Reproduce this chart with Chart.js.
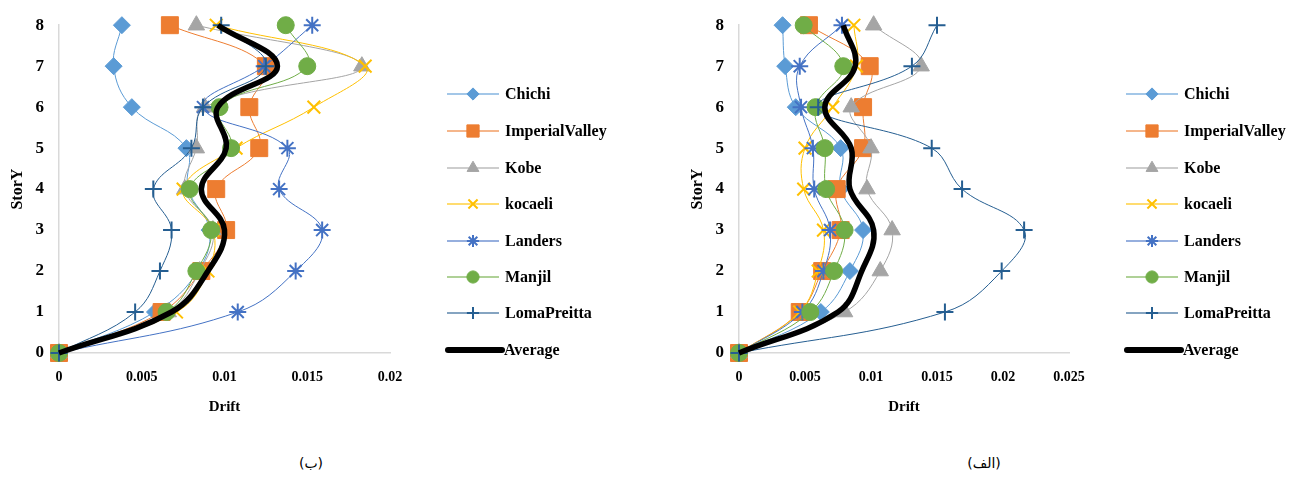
<!DOCTYPE html>
<html>
<head>
<meta charset="utf-8">
<script src="https://cdn.jsdelivr.net/npm/chart.js@4/dist/chart.umd.min.js"></script>
<style>
  body { margin: 0; background: #fff; width: 1305px; height: 478px; position: relative; overflow: hidden; }
  canvas { position: absolute; top: 0; }
  #chartB { left: 0; }
  #chartA { left: 680px; }
  .cap { position: absolute; top: 455px; font-family: "DejaVu Sans", sans-serif; font-size: 14px; transform: translateX(-50%); }
</style>
</head>
<body>
<canvas id="chartB" width="650" height="430"></canvas>
<canvas id="chartA" width="625" height="430"></canvas>
<div class="cap" style="left:311px">(ب)</div>
<div class="cap" style="left:984px">(الف)</div>
<script>
// story levels (y axis)
const stories = [0, 1, 2, 3, 4, 5, 6, 7, 8];
const seriesNames = ["Chichi", "ImperialValley", "Kobe", "kocaeli", "Landers", "Manjil", "LomaPreitta", "Average"];

// left chart (ب)
const chichiB   = [0, 0.0058, 0.0084, 0.0091, 0.0078, 0.0077, 0.0044, 0.0033, 0.0038];
const imperialB = [0, 0.0062, 0.0086, 0.0101, 0.0095, 0.0121, 0.0115, 0.0125, 0.0067];
const kobeB     = [0, 0.0066, 0.0085, 0.0093, 0.0076, 0.0083, 0.0088, 0.0183, 0.0083];
const kocaeliB  = [0, 0.0071, 0.0090, 0.0093, 0.0075, 0.0107, 0.0154, 0.0185, 0.0095];
const landersB  = [0, 0.0108, 0.0143, 0.0159, 0.0133, 0.0138, 0.0087, 0.0124, 0.0153];
const manjilB   = [0, 0.0065, 0.0083, 0.0092, 0.0079, 0.0104, 0.0097, 0.0150, 0.0137];
const lomaB     = [0, 0.0046, 0.0061, 0.0068, 0.0057, 0.0080, 0.0087, 0.0125, 0.0098];
const averageB  = [0, 0.0068, 0.0090, 0.0100, 0.0086, 0.0101, 0.0096, 0.0132, 0.0096];
const xTicksB = ["0", "0.005", "0.01", "0.015", "0.02"];

// right chart (الف)
const chichiA   = [0, 0.0062, 0.0084, 0.0094, 0.0077, 0.0077, 0.0043, 0.0035, 0.0033];
const imperialA = [0, 0.0046, 0.0063, 0.0077, 0.0074, 0.0094, 0.0094, 0.0099, 0.0053];
const kobeA     = [0, 0.0080, 0.0107, 0.0116, 0.0097, 0.0100, 0.0085, 0.0138, 0.0102];
const kocaeliA  = [0, 0.0046, 0.0060, 0.0064, 0.0049, 0.0050, 0.0071, 0.0089, 0.0087];
const landersA  = [0, 0.0048, 0.0064, 0.0069, 0.0057, 0.0056, 0.0047, 0.0046, 0.0078];
const manjilA   = [0, 0.0054, 0.0072, 0.0080, 0.0066, 0.0065, 0.0058, 0.0079, 0.0049];
const lomaA     = [0, 0.0156, 0.0199, 0.0216, 0.0169, 0.0146, 0.0060, 0.0131, 0.0150];
const averageA  = [0, 0.0075, 0.0093, 0.0102, 0.0084, 0.0085, 0.0065, 0.0088, 0.0079];
const xTicksA = ["0", "0.005", "0.01", "0.015", "0.02", "0.025"];

const yTicks = ["0", "1", "2", "3", "4", "5", "6", "7", "8"];

const styles = [
  { color: "#5B9BD5", point: "rectRot", r: 8.5, bw: 1 },
  { color: "#ED7D31", point: "rect", r: 12, bw: 1 },
  { color: "#A5A5A5", point: "triangle", r: 9.5, bw: 1 },
  { color: "#FFC000", point: "crossRot", r: 9, bw: 2 },
  { color: "#4472C4", point: "star", r: 8.5, bw: 2 },
  { color: "#70AD47", point: "circle", r: 8.5, bw: 1 },
  { color: "#255E91", point: "cross", r: 8.5, bw: 2 },
  { color: "#000000", point: false, r: 0, bw: 0 },
];

const serif = "'Liberation Serif', 'Times New Roman', serif";

function toPoints(arr) {
  return arr.map((v, i) => ({ x: v, y: stories[i] }));
}

function makeDatasets(list) {
  return list.map((arr, i) => {
    const s = styles[i];
    const isAvg = i === list.length - 1;
    return {
      label: seriesNames[i],
      data: toPoints(arr),
      showLine: true,
      borderColor: s.color,
      backgroundColor: s.color,
      borderWidth: isAvg ? 5.5 : 1,
      pointStyle: s.point,
      pointRadius: s.r,
      pointBorderWidth: s.bw,
      pointBorderColor: s.color,
      pointBackgroundColor: s.color,
      tension: 0.4,
      clip: false,
      // later series on top, like the original
      order: 20 - i,
    };
  });
}

const legendPlugin = {
  id: "sideLegend",
  afterDraw(chart) {
    const ctx = chart.ctx;
    const x0 = chart.chartArea.right + 57;
    const rows = [94, 131, 168, 204, 241, 277, 313, 350];
    ctx.save();
    chart.data.datasets.forEach((ds, i) => {
      const s = styles[i];
      const y = rows[i];
      ctx.strokeStyle = s.color;
      ctx.fillStyle = s.color;
      if (s.point) {
        ctx.lineWidth = 1.5;
        ctx.globalAlpha = 0.75;
        ctx.beginPath();
        ctx.moveTo(x0, y);
        ctx.lineTo(x0 + 52, y);
        ctx.stroke();
        ctx.globalAlpha = 1;
        ctx.lineWidth = s.bw;
        Chart.helpers.drawPoint(ctx, {
          pointStyle: s.point, radius: s.r * 0.72, rotation: 0, borderWidth: s.bw
        }, x0 + 26, y);
      } else {
        ctx.lineWidth = 6;
        ctx.lineCap = "round";
        ctx.beginPath();
        ctx.moveTo(x0 + 1, y);
        ctx.lineTo(x0 + 55, y);
        ctx.stroke();
      }
      ctx.fillStyle = "#000";
      ctx.font = "bold 16px " + serif;
      ctx.textBaseline = "middle";
      ctx.textAlign = "left";
      ctx.fillText(ds.label, s.point ? x0 + 58 : x0 + 57, y + 1);
    });
    ctx.restore();
  },
};

function makeChart(id, list, xMax, xTicks, rightPad) {
  new Chart(document.getElementById(id), {
    type: "scatter",
    data: { datasets: makeDatasets(list) },
    options: {
      responsive: false,
      animation: false,
      layout: { padding: { left: 8, top: 25, right: rightPad, bottom: 14 } },
      plugins: { legend: { display: false }, tooltip: { enabled: false } },
      scales: {
        x: {
          type: "linear",
          min: 0,
          max: xMax,
          grid: { display: false, drawTicks: false },
          border: { display: true, color: "#D9D9D9", width: 1.5 },
          ticks: {
            stepSize: 0.005,
            padding: 16,
            color: "#000",
            font: { family: serif, size: 14, weight: "bold" },
            callback: (v) => xTicks[Math.round(v / 0.005)],
          },
          title: {
            display: true,
            text: "Drift",
            color: "#000",
            padding: 0,
            font: { family: serif, size: 15, weight: "bold", lineHeight: 1.2 },
          },
          afterFit: (scale) => { scale.height = 63; },
        },
        y: {
          type: "linear",
          min: 0,
          max: 8,
          grid: { display: false, drawTicks: false },
          border: { display: true, color: "#D9D9D9", width: 1.5 },
          ticks: {
            stepSize: 1,
            padding: 15,
            color: "#000",
            font: { family: serif, size: 17, weight: "bold" },
            callback: (v) => yTicks[v],
          },
          title: {
            display: true,
            text: "StorY",
            color: "#000",
            padding: 0,
            font: { family: serif, size: 16, weight: "bold", lineHeight: 1.2 },
          },
          afterFit: (scale) => { scale.width = 51; },
        },
      },
    },
    plugins: [legendPlugin],
  });
}

makeChart("chartB", [chichiB, imperialB, kobeB, kocaeliB, landersB, manjilB, lomaB, averageB], 0.02, xTicksB, 260);
makeChart("chartA", [chichiA, imperialA, kobeA, kocaeliA, landersA, manjilA, lomaA, averageA], 0.025, xTicksA, 236);
</script>
</body>
</html>
